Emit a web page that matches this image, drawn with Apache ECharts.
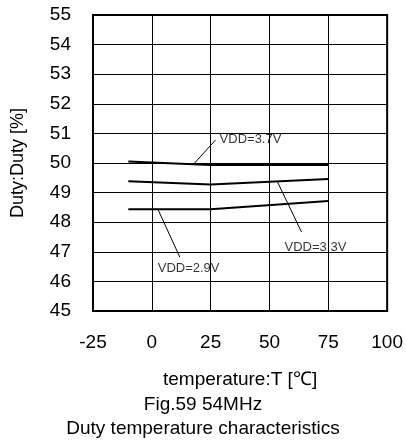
<!DOCTYPE html>
<html>
<head>
<meta charset="utf-8">
<script src="https://cdn.jsdelivr.net/npm/echarts@6/dist/echarts.min.js"></script>
<style>html,body{margin:0;padding:0;background:#fff;}#c{width:406px;height:445px;}</style>
</head>
<body>
<div id="c"></div>
<script>
const temps = [-10, 25, 75];
const vdd37 = [50.05, 49.93, 49.93];
const vdd33 = [49.38, 49.27, 49.46];
const vdd29 = [48.44, 48.44, 48.72];

const xTicks = [-25, 0, 25, 50, 75, 100];
const yTicks = [45, 46, 47, 48, 49, 50, 51, 52, 53, 54, 55];

const labelNames = ['VDD=3.7V', 'VDD=3.3V', 'VDD=2.9V'];
const labelPos = [[28.8, 50.78], [56.4, 47.16], [2.5, 46.45]];
const leader37 = [[18.2, 50.0], [27.1, 50.78]];
const leader33 = [[53.4, 49.36], [63.6, 47.67]];
const leader29 = [[2.5, 48.45], [11.9, 46.82]];

const FONT = "'Liberation Sans', Arial, sans-serif";
const chart = echarts.init(document.getElementById('c'), null, {renderer: 'canvas'});

function dataLine(vals) {
  return {
    type: 'line', data: temps.map((t, i) => [t, vals[i]]),
    symbol: 'none', lineStyle: {color: '#000', width: 2}, animation: false, z: 5
  };
}
function leader(pts) {
  return {
    type: 'line', data: pts, symbol: 'none',
    lineStyle: {color: '#000', width: 1}, animation: false, z: 4
  };
}

chart.setOption({
  animation: false,
  backgroundColor: '#fff',
  grid: {left: 93, right: 18, top: 15, bottom: 134, show: true, borderColor: '#000', borderWidth: 2, backgroundColor: 'transparent'},
  title: {
    text: 'Fig.59 54MHz\nDuty temperature characteristics',
    left: 'center', top: 388,
    textStyle: {fontFamily: FONT, fontSize: 19, fontWeight: 'normal', color: '#000', lineHeight: 24}
  },
  xAxis: {
    type: 'value', min: xTicks[0], max: xTicks[xTicks.length - 1], interval: 25,
    name: 'temperature:T [\u2103]', nameLocation: 'middle', nameGap: 59,
    nameTextStyle: {fontFamily: FONT, fontSize: 19, color: '#000'},
    axisLine: {show: false}, axisTick: {show: false},
    axisLabel: {fontFamily: FONT, fontSize: 19, color: '#000', margin: 22},
    splitLine: {show: true, lineStyle: {color: '#000', width: 1}}
  },
  yAxis: {
    type: 'value', min: yTicks[0], max: yTicks[yTicks.length - 1], interval: 1,
    name: 'Duty:Duty [%]', nameLocation: 'middle', nameGap: 66, nameRotate: 90,
    nameTextStyle: {fontFamily: FONT, fontSize: 18, color: '#000'},
    axisLine: {show: false}, axisTick: {show: false},
    axisLabel: {fontFamily: FONT, fontSize: 19, color: '#000', margin: 22},
    splitLine: {show: true, lineStyle: {color: '#000', width: 1}}
  },
  series: [
    dataLine(vdd37), dataLine(vdd33), dataLine(vdd29),
    leader(leader37), leader(leader33), leader(leader29),
    {
      type: 'scatter', symbolSize: 0, z: 6,
      data: labelPos.map((p, i) => ({value: p, name: labelNames[i]})),
      label: {show: true, position: 'right', distance: 0, formatter: p => p.name,
        fontFamily: FONT, fontSize: 13, color: '#000'}
    }
  ]
});
</script>
</body>
</html>
